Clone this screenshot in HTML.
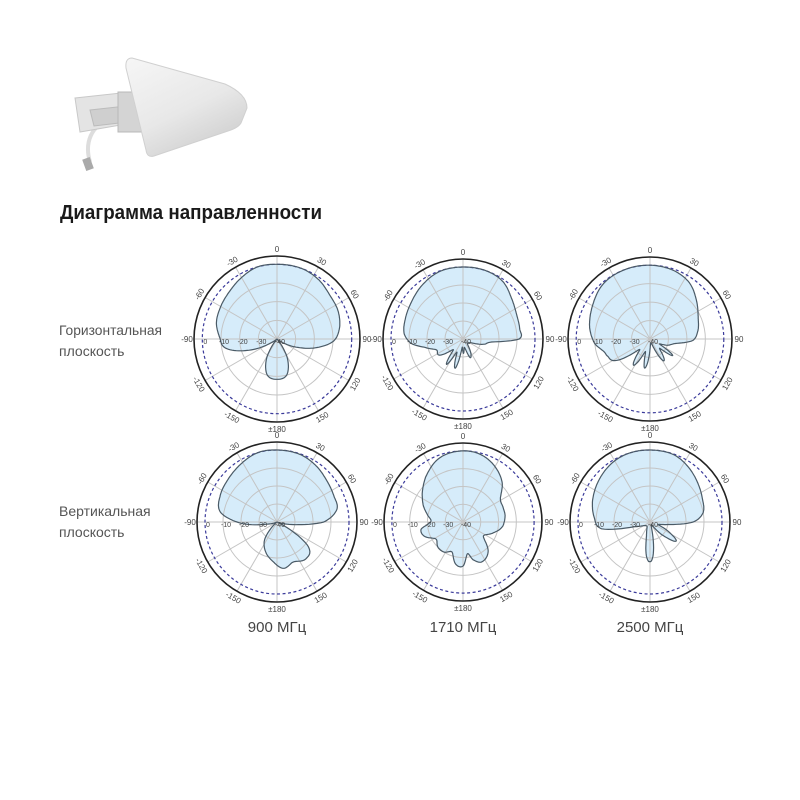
<!DOCTYPE html>
<html><head><meta charset="utf-8"><style>
html,body{margin:0;padding:0;background:#fff;}
svg{display:block}
</style></head><body>
<svg id="s" width="800" height="800" viewBox="0 0 800 800" xmlns="http://www.w3.org/2000/svg" font-family="Liberation Sans, sans-serif">
<defs>
<linearGradient id="bd" x1="0" y1="0" x2="0.6" y2="1">
<stop offset="0" stop-color="#f6f6f6"/><stop offset="0.6" stop-color="#e8e8e8"/><stop offset="1" stop-color="#d0d0d0"/>
</linearGradient>
</defs>
<rect width="800" height="800" fill="#fff"/>
<g>
<path d="M90 162 C 84 142, 92 126, 108 120" stroke="#ddd" stroke-width="4" fill="none"/>
<rect x="84" y="158" width="8" height="12" fill="#aaa" transform="rotate(-20 88 164)"/>
<path d="M75 98 L130 92 L138 122 L80 132 Z" fill="#e4e4e4" stroke="#c8c8c8"/>
<path d="M90 110 L126 106 L128 122 L94 126 Z" fill="#cfcfcf" stroke="#bbb"/>
<rect x="118" y="92" width="24" height="40" fill="#d4d4d4" stroke="#b8b8b8"/>
<path d="M132 58 L225 84 Q247 94 247 108 L241 123 Q238 128 228 131 L154 156 Q147 158 146 150 L126 68 Q125 58 132 58 Z" fill="url(#bd)" stroke="#d0d0d0"/>
</g>
<text x="60" y="219" font-size="20" font-weight="bold" fill="#1a1a1a" textLength="262" lengthAdjust="spacingAndGlyphs">Диаграмма направленности</text>
<g font-size="14" fill="#555">
<text x="59" y="335" textLength="103" lengthAdjust="spacingAndGlyphs">Горизонтальная</text>
<text x="59" y="356">плоскость</text>
<text x="59" y="516">Вертикальная</text>
<text x="59" y="537">плоскость</text>
</g>
<g font-size="15" fill="#444" text-anchor="middle">
<text x="277" y="632">900 МГц</text>
<text x="463" y="632">1710 МГц</text>
<text x="650" y="632">2500 МГц</text>
</g>
<g id="plots"></g>
</svg>
<script>
var NS="http://www.w3.org/2000/svg";
var g=document.getElementById("plots");
function el(t,a,p){var e=document.createElementNS(NS,t);for(var k in a)e.setAttribute(k,a[k]);(p||g).appendChild(e);return e;}
function P(cx,cy,r,deg){var a=deg*Math.PI/180;return [cx+r*Math.sin(a),cy-r*Math.cos(a)];}
function rAt(data,th){var n=data.length,i;
 for(i=0;i<n;i++){var a0=data[i][0],a1=(i+1<n)?data[i+1][0]:data[0][0]+360;if(th>=a0&&th<a1)break;}
 if(i==n){i=n-1;}
 var a0=data[i][0],a1=(i+1<n)?data[i+1][0]:data[0][0]+360;var t=(th-a0)/(a1-a0);
 var r0=data[(i-1+n)%n][1],r1=data[i][1],r2=data[(i+1)%n][1],r3=data[(i+2)%n][1];
 var t2=t*t,t3=t2*t;
 var v=0.5*((2*r1)+(-r0+r2)*t+(2*r0-5*r1+4*r2-r3)*t2+(-r0+3*r1-3*r2+r3)*t3);
 return Math.max(0,Math.min(v,Math.max(r1,r2)+0.03));}
function shape(cx,cy,R0,data){var d="";for(var th=0;th<360;th+=1){var p=P(cx,cy,rAt(data,th)*R0,th);d+=(th?"L":"M")+p[0].toFixed(1)+" "+p[1].toFixed(1);}return d+"Z";}
function plot(cx,cy,R,data){
 var R0=R*0.9;
 var grp=el("g",{});
 var sd=shape(cx,cy,R0,data);
 el("path",{d:sd,fill:"#d6ecfa",stroke:"none"},grp);
 for(var i=1;i<=3;i++)el("circle",{cx:cx,cy:cy,r:R0*i/4,fill:"none",stroke:"#c4c4c4","stroke-width":1},grp);
 for(var a=0;a<180;a+=30){var p1=P(cx,cy,R,a),p2=P(cx,cy,R,a+180);el("line",{x1:p1[0],y1:p1[1],x2:p2[0],y2:p2[1],stroke:"#c4c4c4","stroke-width":1},grp);}
 el("circle",{cx:cx,cy:cy,r:R0,fill:"none",stroke:"#3a3a9a","stroke-width":1.2,"stroke-dasharray":"3 2.5"},grp);
 el("path",{d:sd,fill:"none",stroke:"#4a5a66","stroke-width":1.2,"stroke-linejoin":"round"},grp);
 el("circle",{cx:cx,cy:cy,r:R,fill:"none",stroke:"#222","stroke-width":1.6},grp);
 var lb=[[0,"0"],[30,"30"],[60,"60"],[90,"90"],[120,"120"],[150,"150"],[180,"±180"],[-30,"-30"],[-60,"-60"],[-90,"-90"],[-120,"-120"],[-150,"-150"]];
 lb.forEach(function(l){var p=P(cx,cy,R+7,l[0]);var rot=l[0];if(Math.abs(rot)==90||rot==180)rot=0;else if(Math.abs(rot)>90)rot=rot>0?rot-180:rot+180;
  var t=el("text",{x:p[0],y:p[1]+3,"font-size":8,fill:"#444","text-anchor":"middle",transform:"rotate("+rot+" "+p[0]+" "+p[1]+")"},grp);t.textContent=l[1];});
 ["0","-10","-20","-30","-40"].forEach(function(s,i){var t=el("text",{x:cx-R0*(4-i)/4+3,y:cy+5,"font-size":7,fill:"#444","text-anchor":"middle"},grp);t.textContent=s;});
}
var H900=[[0,1],[20,1],[35,.97],[50,.92],[65,.9],[80,.85],[92,.76],[102,.55],[112,.3],[125,.06],[140,.02],[152,.3],[165,.5],[180,.54],[195,.5],[208,.3],[220,.02],[235,.06],[248,.4],[260,.7],[272,.77],[285,.84],[300,.87],[315,.9],[330,.95],[345,1]];
var H1710=[[0,1],[20,1],[35,.97],[50,.88],[65,.82],[80,.8],[90,.78],[96,.4],[104,.3],[115,.12],[140,.1],[158,.28],[166,.15],[172,.12],[178,.2],[186,.12],[195,.42],[205,.2],[213,.42],[222,.2],[236,.4],[248,.4],[258,.55],[265,.72],[275,.82],[290,.85],[305,.88],[320,.93],[340,.99]];
var H2500=[[0,1],[20,.98],[35,.93],[50,.82],[65,.72],[80,.66],[92,.58],[100,.35],[110,.25],[118,.15],[126,.38],[134,.18],[148,.35],[160,.08],[178,.1],[190,.4],[200,.18],[212,.42],[225,.2],[238,.55],[248,.62],[255,.65],[265,.75],[280,.83],[300,.9],[320,.98],[340,1]];
var V900=[[0,1],[20,.99],[35,.95],[50,.9],[65,.87],[78,.85],[90,.65],[97,.3],[105,.08],[115,.02],[128,.55],[142,.65],[158,.6],[172,.65],[186,.55],[200,.45],[215,.3],[228,.05],[245,.02],[258,.15],[268,.5],[280,.8],[295,.87],[310,.9],[325,.94],[345,1]];
var V1710=[[0,1],[15,.98],[30,.9],[45,.78],[58,.62],[70,.6],[80,.6],[90,.58],[98,.55],[110,.45],[125,.35],[140,.55],[155,.62],[165,.55],[172,.45],[180,.62],[190,.6],[200,.45],[212,.5],[225,.5],[238,.45],[250,.58],[260,.6],[266,.5],[272,.45],[280,.5],[292,.6],[305,.7],[320,.82],[340,.96]];
var V2500=[[0,1],[20,.99],[35,.93],[50,.86],[65,.8],[80,.75],[90,.6],[98,.25],[108,.12],[118,.3],[126,.45],[134,.3],[145,.08],[165,.08],[176,.5],[184,.52],[194,.2],[210,.08],[240,.1],[254,.25],[262,.68],[275,.78],[290,.85],[310,.92],[330,.98],[345,1]];
plot(277,339,83,H900);plot(463,339,80,H1710);plot(650,339,82,H2500);
plot(277,522,80,V900);plot(463,522,79,V1710);plot(650,522,80,V2500);
</script>
</body></html>
